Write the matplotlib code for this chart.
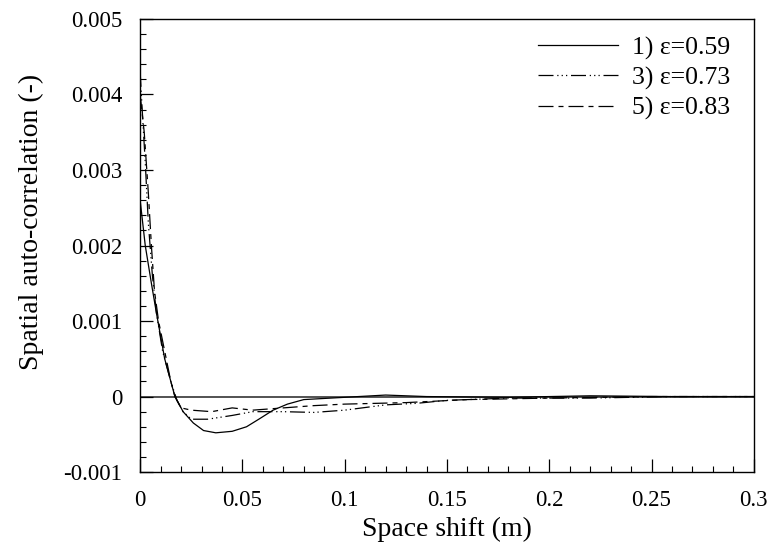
import numpy as np
import matplotlib.pyplot as plt
from matplotlib.ticker import MultipleLocator, FuncFormatter

# Values (space shift in m, auto-correlation)
x1 = [0, 0.0025, 0.0055, 0.008, 0.012, 0.017, 0.021, 0.026, 0.031, 0.037, 0.045,
      0.052, 0.058, 0.065, 0.072, 0.08, 0.1, 0.12, 0.14, 0.18, 0.22, 0.26, 0.3]
y1 = [0.0026, 0.0020, 0.0015, 0.0011, 0.0005, 0.0, -0.0002, -0.00035, -0.00045, -0.00048, -0.00046,
      -0.0004, -0.0003, -0.00018, -0.0001, -0.00004, -0.00001, 0.00002, 0.0, -0.00001, 0.00001, 0.0, 0.0]

x3 = [0, 0.001, 0.0025, 0.004, 0.006, 0.008, 0.011, 0.015, 0.018, 0.021, 0.025, 0.033,
      0.045, 0.055, 0.07, 0.085, 0.1, 0.12, 0.135, 0.15, 0.18, 0.22, 0.26, 0.3]
y3 = [0.0043, 0.0038, 0.0031, 0.0023, 0.0016, 0.0011, 0.0006, 0.0002, -0.00005, -0.0002, -0.0003, -0.0003,
      -0.00025, -0.0002, -0.0002, -0.00021, -0.00018, -0.00011, -0.00009, -0.00005, -0.00002, -0.00002, 0.0, 0.0]

x5 = [0, 0.002, 0.004, 0.0055, 0.007, 0.009, 0.012, 0.015, 0.017, 0.02, 0.025, 0.035,
      0.045, 0.055, 0.07, 0.085, 0.1, 0.13, 0.16, 0.2, 0.25, 0.3]
y5 = [0.0040, 0.0035, 0.0027, 0.0020, 0.0014, 0.0010, 0.0006, 0.0002, 0.0, -0.00015, -0.00018, -0.0002,
      -0.00015, -0.00018, -0.00015, -0.00012, -0.0001, -0.00008, -0.00004, -0.00002, 0.0, 0.0]

labels = ["1) \u03b5=0.59", "3) \u03b5=0.73", "5) \u03b5=0.83"]

plt.rcParams['font.family'] = ['Liberation Serif', 'DejaVu Serif']

fig = plt.figure(figsize=(7.7, 5.42), dpi=100)
ax = fig.add_axes([0.182, 0.129, 0.797, 0.836])

ax.axhline(0, color='#444444', lw=1.3, zorder=1)
ax.plot(x1, y1, color='black', lw=0.9, label=labels[0])
ax.plot(x3, y3, color='black', lw=0.9, dashes=(12, 3, 1, 2.5, 1, 2.5, 1, 3), label=labels[1])
ax.plot(x5, y5, color='black', lw=0.9, dashes=(12, 4, 4, 4), label=labels[2])

ax.set_xlim(0, 0.3)
ax.set_ylim(-0.001, 0.005)
ax.xaxis.set_major_locator(MultipleLocator(0.05))
ax.xaxis.set_minor_locator(MultipleLocator(0.01))
ax.yaxis.set_major_locator(MultipleLocator(0.001))
ax.yaxis.set_minor_locator(MultipleLocator(0.0002))
ax.xaxis.set_major_formatter(FuncFormatter(lambda v, p: f"{v:.3f}".rstrip('0').rstrip('.') if abs(v) > 1e-12 else "0"))
ax.yaxis.set_major_formatter(FuncFormatter(lambda v, p: f"{v:.3f}" if abs(v) > 1e-12 else "0"))
ax.tick_params(which='both', direction='in', labelsize=16.5, top=False, right=False)
ax.tick_params(which='major', length=9.5, width=0.9, pad=13)
ax.tick_params(which='minor', length=4.5, width=0.8)
for s in ax.spines.values():
    s.set_linewidth(1.0)

ax.set_xlabel("Space shift (m)", fontsize=20, labelpad=4)
ax.set_ylabel("Spatial auto-correlation (-)", fontsize=20)
# label sits a bit above the axis centre in the original
ax.yaxis.set_label_coords(-0.156, 0.552)

ax.legend(loc='upper right', bbox_to_anchor=(0.961, 0.9616), frameon=False, fontsize=18.5,
          handlelength=3.1, handletextpad=0.55, labelspacing=0.26, borderaxespad=0, borderpad=0)

fig.savefig("out.png", dpi=100)
